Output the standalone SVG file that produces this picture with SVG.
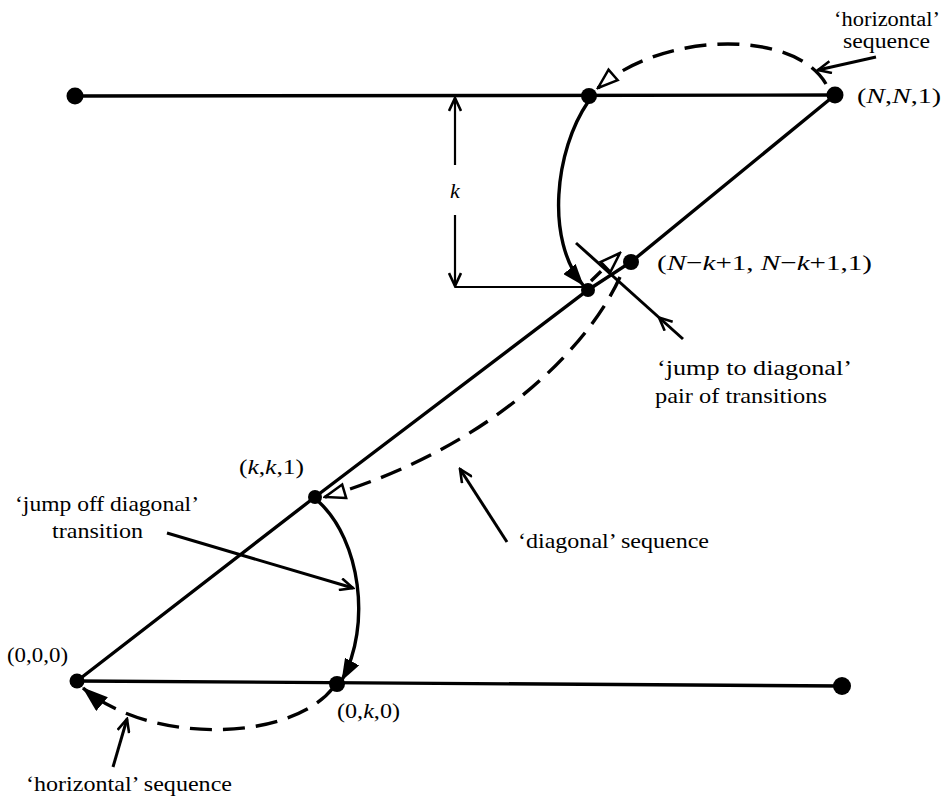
<svg xmlns="http://www.w3.org/2000/svg" width="945" height="798" viewBox="0 0 945 798">
<style>
  .ln { fill: none; stroke: #000; stroke-width: 3.4; stroke-linecap: round; }
  .thin { fill: none; stroke: #000; stroke-width: 2.2; }
  .dash { fill: none; stroke: #000; stroke-width: 3.4; stroke-dasharray: 22 11; }
  .ptr { fill: none; stroke: #000; stroke-width: 3; }
  .node { fill: #000; }
  text { font-family: "Liberation Serif", "Times New Roman", serif; font-size: 22px; fill: #000; }
  .it { font-style: italic; }
  .sm { font-size: 20px; }
</style>
<defs>
  <marker id="filled" markerUnits="userSpaceOnUse" viewBox="0 0 22 16" markerWidth="22" markerHeight="16" refX="21" refY="8" orient="auto">
    <path d="M0,0 L22,8 L0,16 Z" fill="#000" stroke="none"/>
  </marker>
  <marker id="filledBig" markerUnits="userSpaceOnUse" viewBox="0 0 26 18" markerWidth="26" markerHeight="18" refX="25" refY="9" orient="auto">
    <path d="M0,0 L26,9 L0,18 Z" fill="#000" stroke="none"/>
  </marker>
  <marker id="openTri" markerUnits="userSpaceOnUse" viewBox="0 0 24 18" markerWidth="24" markerHeight="18" refX="22" refY="9" orient="auto">
    <path d="M2,2 L22,9 L2,16 Z" fill="#fff" stroke="#000" stroke-width="2.5" stroke-dasharray="none"/>
  </marker>
  <marker id="vee" markerUnits="userSpaceOnUse" viewBox="0 0 16 14" markerWidth="16" markerHeight="14" refX="14" refY="7" orient="auto">
    <path d="M1,1 L14,7 L1,13" fill="none" stroke="#000" stroke-width="2.6" stroke-dasharray="none"/>
  </marker>
</defs>

<g id="connectors">
  <!-- main lines -->
  <path class="ln" d="M75,96 L835,95"/>
  <path class="ln" d="M77,681 L842,686"/>
  <path class="ln" d="M835,95 L631,262 L588,290 L315,497 L77,681"/>
  <!-- k dimension -->
  <path class="thin" d="M455,165 L455,98" marker-end="url(#vee)"/>
  <path class="thin" d="M455,215 L455,286" marker-end="url(#vee)"/>
  <path class="thin" d="M455,287 L583,287"/>
  <!-- transitions -->
  <path class="dash" d="M826,84 C795,30 665,30 598,88" marker-end="url(#openTri)"/>
  <path class="ln" d="M588,102 C555,150 545,240 583,285" marker-end="url(#filled)"/>
  <path class="dash" style="stroke-dasharray:14 7" d="M591,281 L620,253" marker-end="url(#openTri)"/>
  <path class="dash" d="M620,277 C592,340 500,445 325,497" marker-end="url(#openTri)"/>
  <path class="ln" d="M319,502 C360,540 372,625 342,680" marker-end="url(#filled)"/>
  <path class="dash" d="M333,688 C290,742 150,745 83,688" marker-end="url(#filledBig)"/>
  <!-- pointer arrows -->
  <path class="ptr" d="M876,57 L818,70" marker-end="url(#vee)"/>
  <path class="ptr" d="M683,339 L659,317.5" marker-end="url(#vee)"/>
  <path class="ptr" d="M659,317.5 L576,243"/>
  <path class="ptr" d="M507,542 L460,469" marker-end="url(#vee)"/>
  <path class="ptr" d="M167,533 L353,588" marker-end="url(#vee)"/>
  <path class="ptr" d="M113,767 L127,719" marker-end="url(#vee)"/>
</g>

<g id="node-top-left"><circle class="node" cx="75" cy="96" r="8.5"/></g>
<g id="node-top-mid"><circle class="node" cx="589" cy="96" r="8"/></g>
<g id="node-NN1"><circle class="node" cx="835" cy="95" r="8.5"/>
  <text x="857" y="103" textLength="84" lengthAdjust="spacingAndGlyphs">(<tspan class="it">N</tspan>,<tspan class="it">N</tspan>,1)</text></g>
<g id="node-Nk1"><circle class="node" cx="631" cy="262" r="8"/>
  <text x="657" y="270" textLength="215" lengthAdjust="spacingAndGlyphs">(<tspan class="it">N</tspan>−<tspan class="it">k</tspan>+1, <tspan class="it">N</tspan>−<tspan class="it">k</tspan>+1,1)</text></g>
<g id="node-jump"><circle class="node" cx="588" cy="290" r="7"/></g>
<g id="node-kk1"><circle class="node" cx="315" cy="497" r="7"/>
  <text x="239" y="474" textLength="65" lengthAdjust="spacingAndGlyphs">(<tspan class="it">k</tspan>,<tspan class="it">k</tspan>,1)</text></g>
<g id="node-000"><circle class="node" cx="77" cy="681" r="7.5"/>
  <text x="7" y="662" textLength="61" lengthAdjust="spacingAndGlyphs">(0,0,0)</text></g>
<g id="node-0k0"><circle class="node" cx="337" cy="684" r="8"/>
  <text x="337" y="718" textLength="63" lengthAdjust="spacingAndGlyphs">(0,<tspan class="it">k</tspan>,0)</text></g>
<g id="node-bottom-right"><circle class="node" cx="842" cy="686" r="9"/></g>

<g id="labels">
  <text class="it" x="455" y="198" text-anchor="middle">k</text>
  <text class="sm" x="834" y="26" textLength="106" lengthAdjust="spacingAndGlyphs">‘horizontal’</text>
  <text class="sm" x="843" y="48" textLength="87" lengthAdjust="spacingAndGlyphs">sequence</text>
  <text x="657" y="375" textLength="195" lengthAdjust="spacingAndGlyphs">‘jump to diagonal’</text>
  <text x="655" y="403" textLength="172" lengthAdjust="spacingAndGlyphs">pair of transitions</text>
  <text x="518" y="548" textLength="191" lengthAdjust="spacingAndGlyphs">‘diagonal’ sequence</text>
  <text x="15" y="511" textLength="184" lengthAdjust="spacingAndGlyphs">‘jump off diagonal’</text>
  <text x="52" y="538" textLength="91" lengthAdjust="spacingAndGlyphs">transition</text>
  <text x="26" y="791" textLength="206" lengthAdjust="spacingAndGlyphs">‘horizontal’ sequence</text>
</g>
</svg>
